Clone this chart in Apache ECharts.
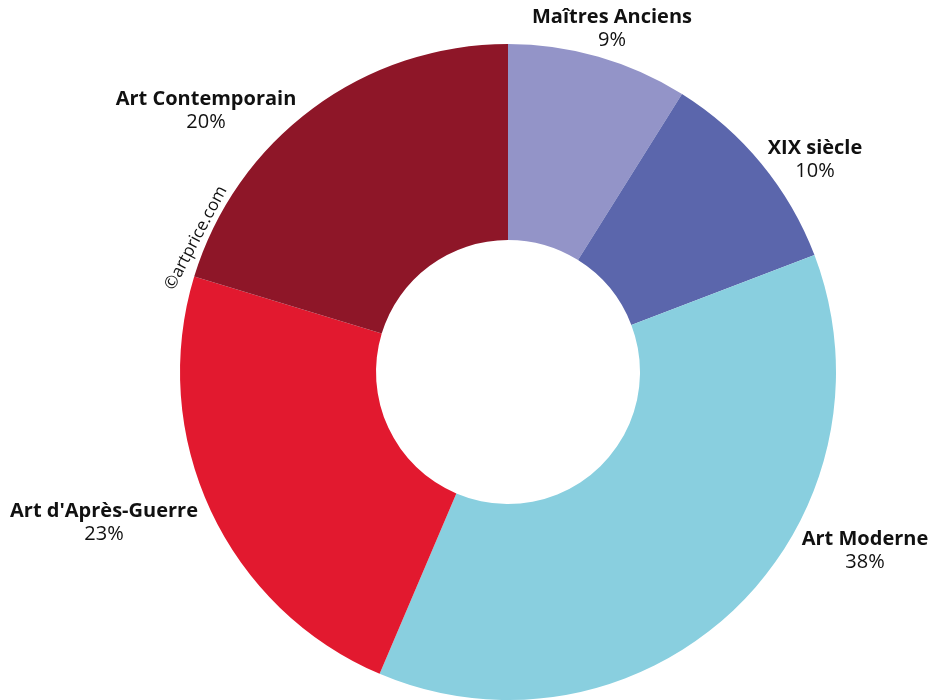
<!DOCTYPE html>
<html>
<head>
<meta charset="utf-8">
<script src="https://cdn.jsdelivr.net/npm/echarts@6/dist/echarts.min.js"></script>
<style>
  html, body { margin: 0; padding: 0; background: #fff; }
  #chart { width: 935px; height: 700px; }
</style>
</head>
<body>
<div id="chart"></div>
<script>
// périodes, dans le sens horaire depuis midi
const categories = ['Maîtres Anciens', 'XIX siècle', 'Art Moderne', "Art d'Après-Guerre", 'Art Contemporain']
const shares = [8.9, 10.3, 37.2, 23.3, 20.3]
const shareLabels = ['9%', '10%', '38%', '23%', '20%']
const colors = ['#9394c8', '#5b66ac', '#89cfdf', '#e2192f', '#8e1628']

// centre des étiquettes (à la Excel, pas sur la bissectrice)
const labelAnchors = [[612, 29], [815, 160], [865, 551], [104, 523], [206, 111]]

const chart = echarts.init(document.getElementById('chart'))
chart.setOption({
  animation: false,
  textStyle: { fontFamily: 'Open Sans' },
  series: [
    {
      type: 'pie',
      center: [508, 372],
      radius: [132, 328],
      startAngle: 90,
      clockwise: true,
      avoidLabelOverlap: false,
      data: categories.map((name, i) => ({
        name: name,
        value: shares[i],
        itemStyle: { color: colors[i] }
      })),
      itemStyle: { borderWidth: 0 },
      labelLine: { show: false },
      label: {
        show: true,
        position: 'outside',
        formatter: p => '{n|' + p.name + '}\n{p|' + shareLabels[p.dataIndex] + '}',
        rich: {
          n: { fontFamily: 'Open Sans', fontWeight: 'bold', fontSize: 20, color: '#111', lineHeight: 23, align: 'center' },
          p: { fontFamily: 'Open Sans', fontWeight: 'normal', fontSize: 20, color: '#111', lineHeight: 23, align: 'center' }
        }
      },
      labelLayout: params => ({
        x: labelAnchors[params.dataIndex][0],
        y: labelAnchors[params.dataIndex][1],
        align: 'center',
        verticalAlign: 'middle'
      })
    }
  ],
  graphic: [
    {
      type: 'text',
      x: 196,
      y: 238,
      rotation: 1.085,
      style: {
        text: '©artprice.com',
        fontFamily: 'Open Sans',
        fontSize: 17,
        fill: '#111',
        align: 'center',
        verticalAlign: 'middle'
      }
    }
  ]
})
</script>
</body>
</html>
